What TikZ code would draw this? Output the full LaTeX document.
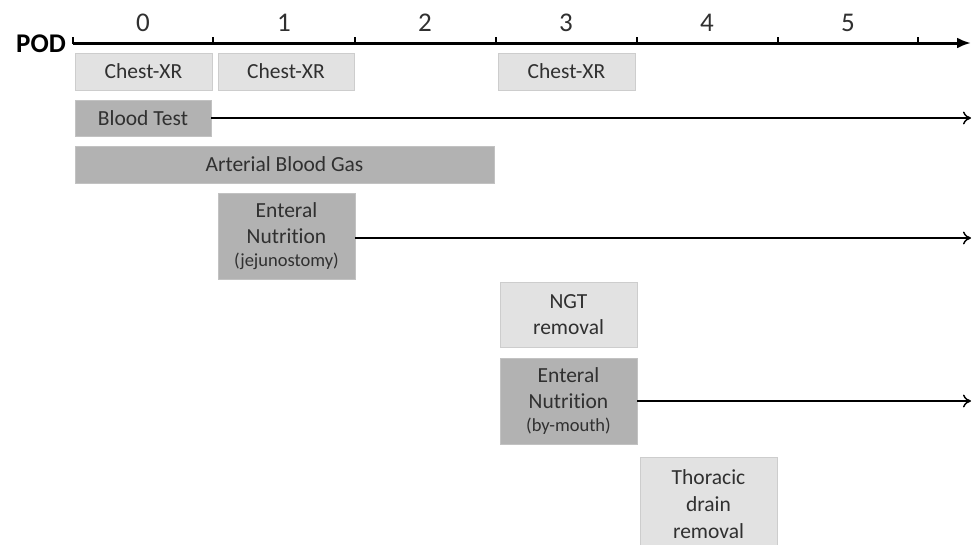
\documentclass[tikz,border=0pt]{standalone}
\usepackage{fontspec}
\setmainfont{Carlito}[Ligatures={NoCommon}]
\usetikzlibrary{arrows.meta}
\definecolor{lightfill}{HTML}{E2E2E2}
\definecolor{lightdraw}{HTML}{CDCDCD}
\definecolor{darkfill}{HTML}{B2B2B2}
\definecolor{darkdraw}{HTML}{C2C2C2}
\definecolor{txt}{HTML}{303030}
\newcommand\subtxt{\fontsize{18.5}{20}\selectfont}
\tikzset{
  base/.style={anchor=north west, inner sep=0pt, outer sep=0pt, align=center, text=txt, font=\fontsize{21.5}{26}\selectfont, line width=1pt},
  lightbox/.style={base, fill=lightfill, draw=lightdraw},
  darkbox/.style={base, fill=darkfill, draw=darkdraw},
  daylabel/.style={font=\fontsize{27}{30}\selectfont, text=txt, inner sep=0pt},
  axisline/.style={line width=3pt, -{Latex[length=14pt,width=11pt]}},
  tickline/.style={line width=2pt},
  longarrow/.style={line width=1.4pt, -{To[length=8pt,width=13pt]}}
}
\begin{document}
\begin{tikzpicture}[x=1pt,y=-1pt]
\useasboundingbox (0,0) rectangle (975,544);
\clip (0,0) rectangle (975,544);
\fill[white] (0,0) rectangle (975,544);
% axis
\coordinate (ax0) at (73,43);
\coordinate (ax1) at (971,43);
\draw[axisline] (ax0) -- (ax1);
\foreach \x/\n in {73/t0,213/t1,355/t2,496/t3,637/t4,778/t5,918/t6}{
  \coordinate (\n) at (\x,43);
  \draw[tickline] (\x,44) -- (\x,37);
}
\node[font=\bfseries\fontsize{27}{30}\selectfont, text=black, anchor=east, inner sep=0pt] (pod) at (66,44) {POD};
\foreach \x/\d in {143/0,284/1,425/2,566/3,707/4,848/5}{
  \node[daylabel] (d\d) at (\x,23) {\d};
}
% boxes
\node[lightbox, minimum width=137pt, minimum height=37pt] (cx1) at (75,53) {Chest-XR};
\node[lightbox, minimum width=136pt, minimum height=37pt] (cx2) at (218,53) {Chest-XR};
\node[lightbox, minimum width=137pt, minimum height=37pt] (cx3) at (498,53) {Chest-XR};
\node[darkbox, minimum width=136pt, minimum height=36pt] (bt) at (75,100) {Blood Test};
\node[darkbox, minimum width=419pt, minimum height=37pt] (abg) at (75,146) {Arterial Blood Gas};
\node[darkbox, minimum width=137pt, minimum height=86pt] (enj) at (218,193) {Enteral\\Nutrition\\[-3pt]{\subtxt (jejunostomy)}};
\node[lightbox, minimum width=137pt, minimum height=65pt] (ngt) at (500,282) {NGT\\removal};
\node[darkbox, minimum width=137pt, minimum height=86pt] (enm) at (500,358) {Enteral\\Nutrition\\[-3pt]{\subtxt (by-mouth)}};
\node[lightbox, minimum width=137pt, minimum height=95pt] (tdr) at (640,457) {Thoracic\\[1pt]drain\\[1pt]removal};
% arrows
\coordinate (e1) at (971,118);
\coordinate (e2) at (971,238);
\coordinate (e3) at (971,401);
\draw[longarrow] (bt.east |- e1) -- (e1);
\draw[longarrow] (enj.east |- e2) -- (e2);
\draw[longarrow] (enm.east |- e3) -- (e3);
\end{tikzpicture}
\end{document}
